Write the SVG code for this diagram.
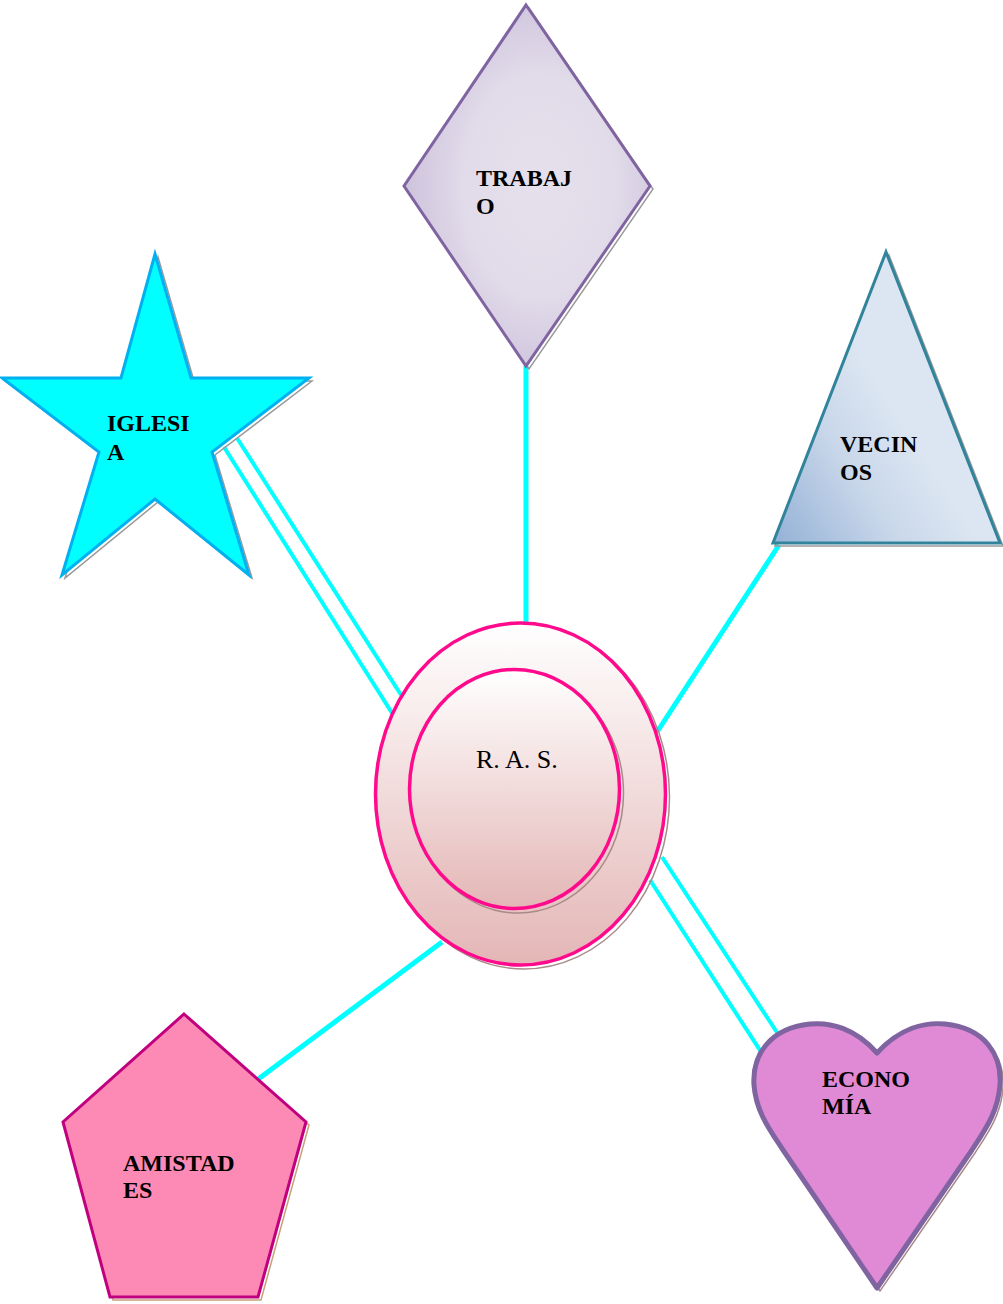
<svg xmlns="http://www.w3.org/2000/svg" width="1003" height="1304" viewBox="0 0 1003 1304">
<defs>
<linearGradient id="gEll" x1="0" y1="0" x2="0" y2="1">
<stop offset="0" stop-color="#ffffff"/>
<stop offset="1" stop-color="#e4b6b6"/>
</linearGradient>
<radialGradient id="gDia" cx="0.55" cy="0.5" r="0.6">
<stop offset="0" stop-color="#e6e0ed"/>
<stop offset="0.5" stop-color="#e2dcea"/>
<stop offset="1" stop-color="#c9bdd9"/>
</radialGradient>
<linearGradient id="gTri" x1="0" y1="1" x2="0.55" y2="0.55">
<stop offset="0" stop-color="#93b1d6"/>
<stop offset="0.6" stop-color="#c9d7ea"/>
<stop offset="1" stop-color="#dce6f2"/>
</linearGradient>
<style>
.lbl{font-family:"Liberation Serif","Times New Roman",serif;font-weight:bold;font-size:24px;fill:#000}
.con{stroke:#00ffff;stroke-width:5;fill:none}
.con2{stroke:#00ffff;stroke-width:4;fill:none}
.shg{fill:none;stroke:#9a9a9a;stroke-width:1.5}
.shb{fill:none;stroke:#a88a8a;stroke-width:1.5}
</style>
</defs>
<g id="connectors">
<line class="con" x1="526" y1="366" x2="526" y2="622"/>
<line class="con2" x1="224" y1="447" x2="392" y2="713"/>
<line class="con2" x1="237" y1="438" x2="403" y2="698"/>
<line class="con" x1="779" y1="545" x2="657" y2="732"/>
<line class="con2" x1="650" y1="880" x2="763" y2="1055"/>
<line class="con2" x1="662" y1="857" x2="780" y2="1037"/>
<line class="con" x1="257" y1="1080" x2="442" y2="942"/>
</g>
<g id="trabajo">
<polygon class="shg" points="529,8 653,189 529,369 407,189"/>
<polygon points="526,5 650,186 526,366 404,186" fill="url(#gDia)" stroke="#8064a2" stroke-width="3"/>
<text class="lbl" x="476" y="186">TRABAJ</text>
<text class="lbl" x="476" y="214">O</text>
</g>
<g id="iglesia">
<polygon class="shg" points="158,257 194,381 312,381 215,455 252,578 158,502 65,578 102,455 5,381 124,381"/>
<polygon points="155,254 191,378 309,378 212,452 249,575 155,499 62,575 99,452 2,378 121,378" fill="#00ffff" stroke="#00b0f0" stroke-width="3"/>
<text class="lbl" x="107" y="431">IGLESI</text>
<text class="lbl" x="107" y="460">A</text>
</g>
<g id="vecinos">
<polygon class="shg" points="889,255 1003,546 775,546"/>
<polygon points="886,252 1000,543 773,543" fill="url(#gTri)" stroke="#31849b" stroke-width="3"/>
<text class="lbl" x="840" y="452">VECIN</text>
<text class="lbl" x="840" y="480">OS</text>
</g>
<g id="ras">
<ellipse class="shb" cx="524" cy="797" rx="145.5" ry="172"/>
<ellipse cx="520.5" cy="794" rx="145" ry="171" fill="url(#gEll)" stroke="#ff0a8c" stroke-width="3.5"/>
<ellipse class="shb" cx="518" cy="793" rx="105.5" ry="120"/>
<ellipse cx="514.5" cy="789" rx="105" ry="119.5" fill="url(#gEll)" stroke="#ff0a8c" stroke-width="3.5"/>
<text x="476" y="768" font-family="Liberation Serif,Times New Roman,serif" font-size="26" fill="#000">R. A. S.</text>
</g>
<g id="economia">
<path class="shb" transform="translate(3,3)" d="M877,1053 C900,1028 925,1022 945,1024 C985,1028 1002,1055 1000,1085 C998,1112 985,1130 972,1150 L877,1288 L783,1150 C770,1130 756,1112 754,1085 C752,1055 770,1028 810,1024 C830,1022 855,1028 877,1053 Z"/>
<path d="M877,1053 C900,1028 925,1022 945,1024 C985,1028 1002,1055 1000,1085 C998,1112 985,1130 972,1150 L877,1288 L783,1150 C770,1130 756,1112 754,1085 C752,1055 770,1028 810,1024 C830,1022 855,1028 877,1053 Z" fill="#e089d4" stroke="#8064a2" stroke-width="5" stroke-linejoin="round"/>
<text class="lbl" x="822" y="1087">ECONO</text>
<text class="lbl" x="822" y="1114">MÍA</text>
</g>
<g id="amistades">
<polygon points="187,1017 309,1125 261,1300 113,1300 66,1125" fill="none" stroke="#c8a07a" stroke-width="1.5"/>
<polygon points="184,1014 306,1122 258,1297 110,1297 63,1122" fill="#fd8ab4" stroke="#c0007f" stroke-width="3"/>
<text class="lbl" x="123" y="1171">AMISTAD</text>
<text class="lbl" x="123" y="1198">ES</text>
</g>
</svg>
